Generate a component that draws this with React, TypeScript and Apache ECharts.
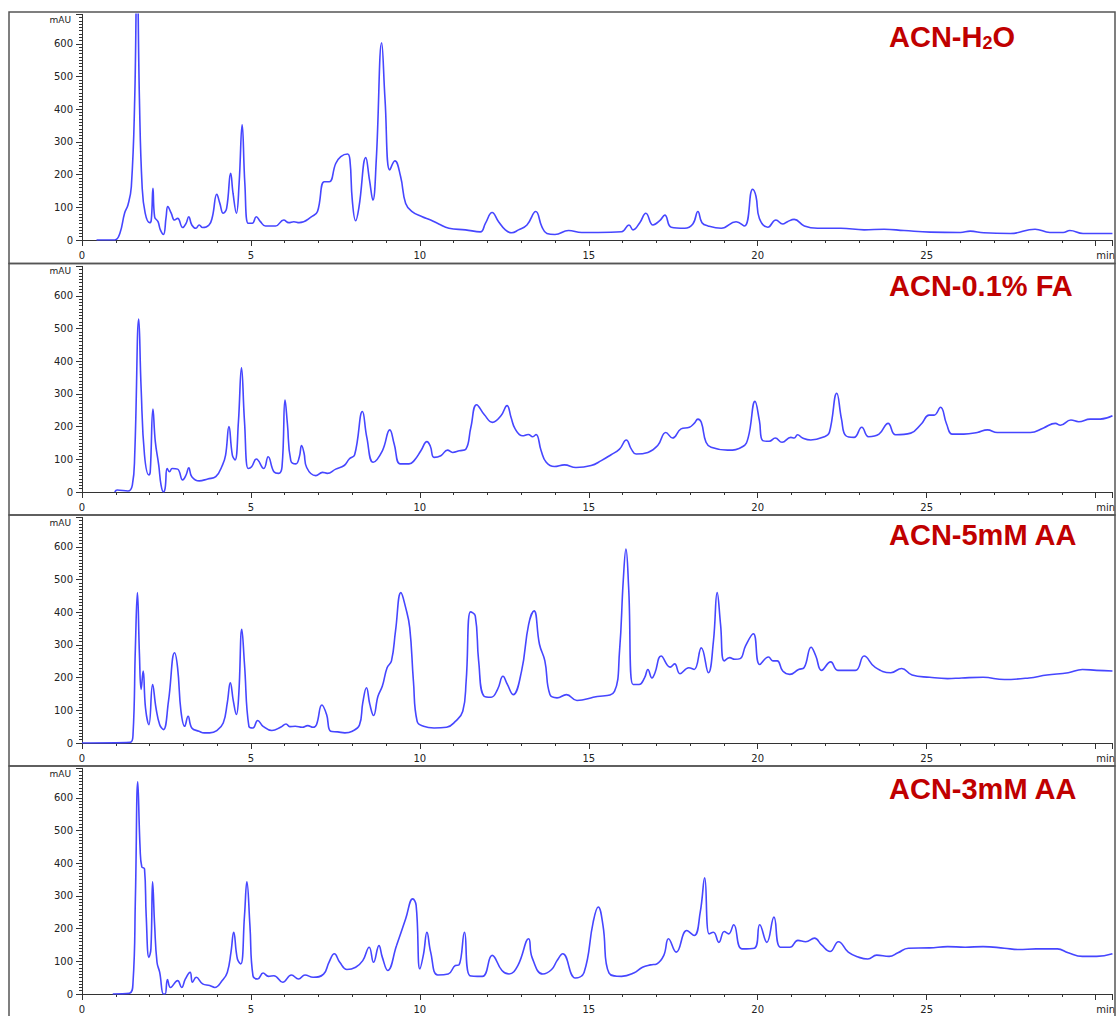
import React, { useEffect, useRef } from 'react';
import * as echarts from 'echarts';

// Panel titles (rich text markup for subscript)
const panelTitles = ['{t|ACN-H}{s|2}{t|O}', '{t|ACN-0.1% FA}', '{t|ACN-5mM AA}', '{t|ACN-3mM AA}'];
const yUnit = 'mAU';
const xUnit = 'min';

// Chromatogram traces: [time (min), absorbance (mAU)]
const traceH2O: number[][] = [
  [0.43,0],[0.97,0],[1.12,20],[1.26,82],[1.36,107],[1.46,163],[1.56,430],[1.63,850],[1.70,430],[1.78,163],[1.87,82],[2.0,53],[2.05,61],[2.1,158],[2.15,71],[2.25,56],[2.32,31],[2.41,17],[2.49,71],[2.54,102],[2.64,82],[2.74,61],[2.83,66],[2.98,38],[3.08,51],[3.16,71],[3.25,46],[3.37,36],[3.47,46],[3.57,38],[3.76,46],[3.86,71],[3.99,140],[4.08,112],[4.18,82],[4.28,97],[4.40,204],[4.47,143],[4.57,82],[4.65,173],[4.74,352],[4.82,173],[4.92,51],[5.04,51],[5.16,71],[5.28,56],[5.43,43],[5.73,43],[5.97,61],[6.12,53],[6.27,56],[6.43,53],[6.82,73],[6.97,87],[7.17,178],[7.32,178],[7.51,234],[7.66,255],[7.86,263],[7.93,245],[8.00,122],[8.10,59],[8.20,102],[8.40,252],[8.51,183],[8.61,122],[8.71,245],[8.87,603],[8.97,428],[9.11,214],[9.26,242],[9.43,194],[9.58,112],[9.77,87],[10.07,71],[10.32,61],[10.56,49],[10.86,36],[11.35,31],[11.79,25],[11.94,51],[12.14,84],[12.33,56],[12.53,31],[12.72,22],[12.92,31],[13.17,46],[13.43,87],[13.61,41],[13.76,20],[14.00,17],[14.40,29],[14.79,23],[15.28,23],[15.97,25],[16.19,46],[16.31,31],[16.51,53],[16.69,82],[16.90,46],[17.10,59],[17.25,76],[17.44,39],[17.84,36],[18.08,49],[18.23,87],[18.35,53],[18.53,43],[18.92,36],[19.36,56],[19.61,43],[19.85,155],[19.95,133],[20.05,66],[20.30,39],[20.54,61],[20.74,49],[20.88,56],[21.08,63],[21.38,43],[21.77,36],[22.46,36],[23.15,31],[23.74,33],[24.33,29],[25.11,24],[26.00,23],[26.29,27],[26.69,22],[27.48,20],[28.21,33],[28.65,23],[29.04,23],[29.24,29],[29.63,20],[30.5,20]
];

const traceFA: number[][] = [
  [0.97,0],[1.04,6],[1.36,3],[1.49,21],[1.56,113],[1.68,529],[1.75,317],[1.85,113],[1.98,52],[2.02,62],[2.10,254],[2.17,154],[2.27,83],[2.34,21],[2.41,0],[2.46,11],[2.52,72],[2.59,62],[2.67,72],[2.83,70],[2.98,37],[3.08,52],[3.16,74],[3.25,47],[3.47,34],[3.72,40],[3.96,47],[4.16,83],[4.25,113],[4.35,200],[4.45,113],[4.53,98],[4.63,215],[4.72,380],[4.81,215],[4.92,72],[5.02,77],[5.16,101],[5.38,72],[5.51,108],[5.68,62],[5.82,57],[5.92,77],[6.01,281],[6.08,208],[6.18,96],[6.33,86],[6.43,106],[6.50,142],[6.57,120],[6.65,75],[6.92,50],[7.12,60],[7.26,57],[7.51,70],[7.76,81],[7.91,101],[8.07,114],[8.30,246],[8.43,167],[8.62,91],[8.89,126],[9.11,190],[9.24,147],[9.42,86],[9.68,86],[9.83,96],[10.03,126],[10.21,154],[10.31,140],[10.42,106],[10.62,111],[10.82,128],[10.97,121],[11.17,126],[11.36,131],[11.51,198],[11.68,267],[11.91,236],[12.15,213],[12.40,233],[12.58,264],[12.70,228],[12.82,193],[13.04,172],[13.21,176],[13.34,169],[13.44,176],[13.59,126],[13.74,91],[13.98,78],[14.28,83],[14.62,75],[15.07,81],[15.37,96],[15.66,114],[15.91,131],[16.11,159],[16.26,131],[16.40,116],[16.75,121],[17.04,142],[17.28,182],[17.48,165],[17.73,193],[17.98,198],[18.12,210],[18.23,223],[18.33,213],[18.47,152],[18.62,137],[19.11,128],[19.56,139],[19.72,167],[19.92,277],[20.05,218],[20.15,157],[20.34,155],[20.52,165],[20.72,152],[20.98,167],[21.08,165],[21.18,175],[21.33,165],[21.57,159],[21.97,169],[22.12,182],[22.34,302],[22.48,223],[22.61,172],[22.85,167],[23.08,198],[23.28,169],[23.59,177],[23.86,210],[24.08,175],[24.53,180],[24.84,208],[25.07,235],[25.22,235],[25.41,259],[25.59,208],[25.76,177],[26.10,177],[26.50,182],[26.80,190],[27.09,182],[27.68,182],[28.07,182],[28.46,196],[28.81,210],[28.96,204],[29.27,220],[29.50,215],[29.84,223],[30.14,223],[30.5,233]
];

const trace5mM: number[][] = [
  [0,0],[1.43,2],[1.51,26],[1.58,291],[1.64,460],[1.70,271],[1.75,164],[1.81,220],[1.88,107],[1.98,56],[2.09,179],[2.19,107],[2.30,56],[2.41,41],[2.56,128],[2.74,276],[2.83,230],[2.93,97],[3.04,51],[3.14,82],[3.25,46],[3.46,36],[3.62,31],[3.78,31],[3.99,38],[4.18,61],[4.30,123],[4.39,184],[4.48,128],[4.57,87],[4.64,148],[4.73,348],[4.81,240],[4.94,51],[5.06,46],[5.20,69],[5.36,51],[5.62,38],[5.89,49],[6.04,58],[6.15,50],[6.31,51],[6.52,48],[6.68,53],[6.84,48],[6.94,56],[7.10,116],[7.24,87],[7.36,36],[7.57,34],[7.78,31],[8.00,36],[8.21,54],[8.31,123],[8.42,169],[8.52,118],[8.63,84],[8.76,143],[8.89,174],[9.03,230],[9.16,251],[9.28,343],[9.44,460],[9.58,414],[9.70,353],[9.81,189],[9.92,66],[10.11,51],[10.42,46],[10.79,48],[11.05,66],[11.27,97],[11.37,189],[11.50,401],[11.64,389],[11.74,251],[11.90,143],[12.11,140],[12.30,164],[12.46,204],[12.59,179],[12.76,148],[13.01,220],[13.22,363],[13.38,404],[13.54,302],[13.70,251],[13.85,148],[14.06,138],[14.34,148],[14.65,130],[15.13,140],[15.76,158],[15.91,281],[16.02,496],[16.10,593],[16.18,475],[16.31,179],[16.49,179],[16.65,199],[16.75,225],[16.87,199],[16.96,215],[17.14,266],[17.41,232],[17.54,242],[17.70,212],[17.96,230],[18.12,225],[18.33,291],[18.54,215],[18.69,312],[18.80,460],[18.90,363],[19.01,251],[19.17,261],[19.32,256],[19.48,258],[19.64,297],[19.87,334],[20.06,240],[20.32,263],[20.45,251],[20.58,251],[20.74,220],[20.95,210],[21.21,225],[21.37,230],[21.58,293],[21.72,266],[21.89,222],[22.16,248],[22.37,222],[22.89,222],[23.15,266],[23.47,232],[23.94,215],[24.26,228],[24.57,208],[25.09,201],[25.62,197],[26.04,199],[26.67,201],[27.30,194],[28.03,199],[28.56,208],[29.19,215],[29.61,225],[30.03,222],[30.5,220]
];

const trace3mM: number[][] = [
  [0.91,0],[1.40,2],[1.51,36],[1.58,291],[1.65,649],[1.72,445],[1.77,389],[1.85,383],[1.90,240],[1.98,112],[2.04,138],[2.09,343],[2.15,210],[2.22,97],[2.30,66],[2.41,0],[2.46,0],[2.53,44],[2.62,20],[2.83,41],[2.95,20],[3.06,46],[3.20,66],[3.27,36],[3.38,51],[3.57,31],[3.78,26],[3.93,20],[4.15,41],[4.30,66],[4.41,128],[4.49,189],[4.60,107],[4.70,92],[4.81,240],[4.88,343],[4.97,210],[5.06,56],[5.20,46],[5.36,64],[5.52,54],[5.68,56],[5.94,36],[6.20,58],[6.41,46],[6.60,58],[6.84,51],[7.15,61],[7.31,97],[7.47,123],[7.63,97],[7.84,75],[8.10,82],[8.31,102],[8.50,143],[8.63,97],[8.79,148],[8.89,112],[9.05,72],[9.31,148],[9.58,230],[9.79,291],[9.89,271],[10.00,77],[10.11,123],[10.21,189],[10.32,128],[10.53,58],[10.84,61],[11.05,87],[11.16,89],[11.32,189],[11.48,56],[11.85,54],[12.14,118],[12.43,72],[12.64,61],[12.90,87],[13.22,169],[13.32,112],[13.64,61],[13.90,75],[14.06,102],[14.23,123],[14.60,49],[14.86,66],[15.13,220],[15.28,266],[15.42,210],[15.60,64],[15.97,54],[16.33,64],[16.59,82],[16.83,89],[17.01,92],[17.22,118],[17.36,169],[17.59,128],[17.90,194],[18.12,179],[18.30,251],[18.43,355],[18.56,184],[18.69,189],[18.85,158],[19.01,191],[19.14,184],[19.29,212],[19.53,138],[19.90,140],[20.06,212],[20.27,158],[20.48,235],[20.67,143],[20.95,143],[21.19,164],[21.42,160],[21.68,171],[21.89,150],[22.14,130],[22.39,160],[22.68,128],[23.00,112],[23.26,107],[23.52,119],[23.89,115],[24.15,126],[24.46,140],[25.09,141],[25.62,145],[26.14,143],[26.67,145],[27.30,140],[27.72,136],[28.24,138],[28.87,138],[29.19,126],[29.61,115],[30.03,115],[30.5,123]
];

const traces = [traceH2O, traceFA, trace5mM, trace3mM];

// Layout constants (pixels)
const PANEL_TOPS = [12, 263.5, 515, 766];
const PANEL_BOTTOM = 1017;
const ZERO_Y = [240, 492, 743, 994];
const TITLE_TOP = [22.5, 271.5, 520.5, 774.5];
const PX_PER_MAU = 0.327;
const Y_MAX = 690;
const X_MAX = 30.5;
const GRID_LEFT = 82;
const GRID_W = 1034;

const AXIS_COLOR = '#333';
const LABEL_FONT = 'DejaVu Sans, Verdana, sans-serif';

export default function App() {
  const ref = useRef<HTMLDivElement>(null);

  useEffect(() => {
    if (!ref.current) return;
    const chart = echarts.init(ref.current, undefined, { renderer: 'svg' });
    const gh = Y_MAX * PX_PER_MAU;

    const grids = traces.map((_, i) => ({
      left: GRID_LEFT,
      width: GRID_W,
      top: ZERO_Y[i] - gh,
      height: gh,
    }));

    const xAxes = traces.map((_, i) => ({
      type: 'value',
      gridIndex: i,
      min: 0,
      max: X_MAX,
      interval: 5,
      axisLine: { show: true, onZero: false, lineStyle: { color: AXIS_COLOR, width: 1 } },
      axisTick: { show: true, length: 6, lineStyle: { color: AXIS_COLOR } },
      minorTick: { show: true, splitNumber: 5, length: 3, lineStyle: { color: AXIS_COLOR } },
      splitLine: { show: false },
      axisLabel: {
        fontFamily: LABEL_FONT,
        fontSize: 10,
        color: '#222',
        margin: 10,
        showMaxLabel: true,
        formatter: (v: number) => {
          if (Math.abs(v - 30) < 1e-6) return '{m|' + xUnit + '}';
          if (Math.abs(v % 5) > 1e-6) return '';
          return String(v);
        },
        rich: { m: { fontFamily: LABEL_FONT, fontSize: 10, color: '#222', padding: [0, 0, 0, 20] } },
      },
    }));

    const yAxes = traces.map((_, i) => ({
      type: 'value',
      gridIndex: i,
      min: 0,
      max: Y_MAX,
      interval: 100,
      axisLine: { show: true, lineStyle: { color: AXIS_COLOR, width: 1 } },
      axisTick: { show: true, length: 6, lineStyle: { color: AXIS_COLOR } },
      minorTick: { show: true, splitNumber: 10, length: 3, lineStyle: { color: AXIS_COLOR } },
      splitLine: { show: false },
      axisLabel: {
        fontFamily: LABEL_FONT,
        fontSize: 10,
        color: '#222',
        margin: 9,
        formatter: (v: number) => (v % 100 === 0 && v <= 600 ? String(v) : ''),
      },
    }));

    const series = traces.map((d, i) => ({
      type: 'line',
      xAxisIndex: i,
      yAxisIndex: i,
      data: d,
      showSymbol: false,
      symbol: 'none',
      smooth: 0.45,
      clip: true,
      lineStyle: { color: '#4646ff', width: 1.6 },
    }));

    const graphics: any[] = [];
    PANEL_TOPS.forEach((top, i) => {
      const bottom = i < 3 ? PANEL_TOPS[i + 1] : PANEL_BOTTOM;
      graphics.push({
        type: 'rect',
        shape: { x: 9, y: top, width: 1106, height: bottom - top },
        style: { fill: 'none', stroke: '#555', lineWidth: 1.5 },
        silent: true,
        z: 10,
      });
      graphics.push({
        type: 'text',
        x: 71,
        y: top + 7.5,
        style: {
          text: yUnit,
          fontFamily: LABEL_FONT,
          fontSize: 9,
          fill: '#222',
          textAlign: 'right',
          textVerticalAlign: 'middle',
        },
        z: 10,
      });
      graphics.push({
        type: 'text',
        x: 889,
        y: TITLE_TOP[i],
        style: {
          text: panelTitles[i],
          rich: {
            t: {
              fontFamily: 'Liberation Sans, Arial, sans-serif',
              fontWeight: 'bold',
              fontSize: 29,
              lineHeight: 29,
              fill: '#C00000',
            },
            s: {
              fontFamily: 'Liberation Sans, Arial, sans-serif',
              fontWeight: 'bold',
              fontSize: 18,
              lineHeight: 8,
              verticalAlign: 'bottom',
              fill: '#C00000',
            },
          },
          textAlign: 'left',
          textVerticalAlign: 'top',
        },
        z: 10,
      });
    });

    chart.setOption({
      animation: false,
      backgroundColor: '#fff',
      grid: grids,
      xAxis: xAxes,
      yAxis: yAxes,
      series,
      graphic: graphics,
    });

    return () => chart.dispose();
  }, []);

  return (
    <div
      ref={ref}
      style={{ position: 'absolute', left: 0, top: 0, width: 1118, height: 1016 }}
    />
  );
}
